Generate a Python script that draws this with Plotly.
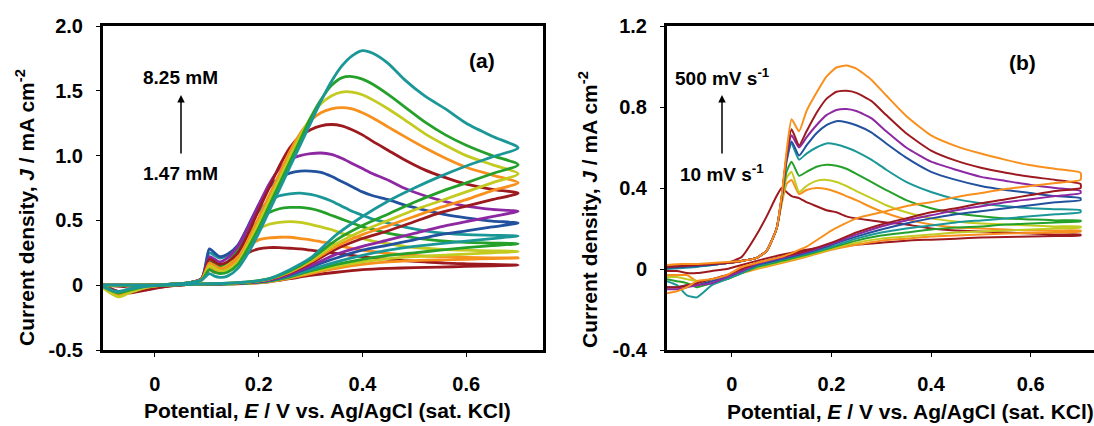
import plotly.graph_objects as go

# ---------------- Panel (a): concentration series 1.47 -> 8.25 mM ----------------
E_FWD_A = [-0.10, -0.06, -0.02, 0.02, 0.06, 0.09, 0.105, 0.115, 0.125, 0.14,
           0.16, 0.18, 0.20, 0.22, 0.24, 0.26, 0.28, 0.30, 0.32, 0.34, 0.36,
           0.38, 0.40, 0.42, 0.45, 0.48, 0.52, 0.56, 0.60, 0.65, 0.70]
E_REV_A = [0.65, 0.60, 0.55, 0.50, 0.45, 0.40, 0.35, 0.30, 0.26, 0.22, 0.18,
           0.14, 0.10, 0.06, 0.02, -0.02, -0.05, -0.07, -0.09, -0.10]

# forward scans (highest concentration first)
a01_f = [0.0, 0.0, 0.0, 0.005, 0.015, 0.04, 0.09, 0.07, 0.06, 0.07, 0.13, 0.25, 0.40, 0.57, 0.74, 0.91, 1.08, 1.25, 1.42, 1.57, 1.69, 1.77, 1.81, 1.79, 1.71, 1.59, 1.46, 1.36, 1.25, 1.15, 1.06]
a02_f = [0.0, 0.0, 0.0, 0.005, 0.015, 0.04, 0.12, 0.10, 0.09, 0.10, 0.16, 0.29, 0.44, 0.61, 0.78, 0.95, 1.12, 1.29, 1.43, 1.54, 1.60, 1.61, 1.59, 1.55, 1.47, 1.38, 1.26, 1.16, 1.08, 1.00, 0.93]
a03_f = [-0.01, 0.0, 0.0, 0.005, 0.015, 0.04, 0.15, 0.13, 0.11, 0.12, 0.18, 0.32, 0.48, 0.65, 0.82, 0.99, 1.15, 1.29, 1.40, 1.46, 1.49, 1.49, 1.47, 1.43, 1.36, 1.28, 1.17, 1.08, 1.00, 0.93, 0.86]
a04_f = [0.0, 0.0, 0.0, 0.005, 0.015, 0.045, 0.17, 0.15, 0.13, 0.14, 0.20, 0.35, 0.52, 0.69, 0.86, 1.03, 1.17, 1.27, 1.33, 1.36, 1.37, 1.36, 1.33, 1.29, 1.22, 1.15, 1.06, 0.98, 0.91, 0.85, 0.79]
a05_f = [0.0, -0.01, 0.0, 0.005, 0.015, 0.05, 0.20, 0.18, 0.16, 0.18, 0.25, 0.40, 0.58, 0.75, 0.92, 1.06, 1.15, 1.20, 1.23, 1.24, 1.23, 1.20, 1.16, 1.11, 1.04, 0.97, 0.89, 0.83, 0.78, 0.74, 0.71]
a06_f = [0.0, 0.0, 0.0, 0.005, 0.015, 0.05, 0.22, 0.20, 0.18, 0.21, 0.30, 0.45, 0.62, 0.78, 0.90, 0.97, 1.00, 1.015, 1.02, 1.01, 0.98, 0.94, 0.90, 0.86, 0.81, 0.75, 0.69, 0.645, 0.61, 0.585, 0.57]
a07_f = [0.0, 0.0, 0.0, 0.005, 0.015, 0.05, 0.28, 0.25, 0.22, 0.24, 0.31, 0.46, 0.62, 0.75, 0.83, 0.865, 0.88, 0.88, 0.87, 0.84, 0.80, 0.76, 0.72, 0.69, 0.66, 0.62, 0.58, 0.545, 0.52, 0.495, 0.48]
a08_f = [0.0, 0.0, 0.0, 0.005, 0.015, 0.05, 0.25, 0.23, 0.21, 0.23, 0.30, 0.44, 0.57, 0.65, 0.69, 0.705, 0.71, 0.70, 0.68, 0.65, 0.61, 0.57, 0.54, 0.51, 0.48, 0.45, 0.42, 0.40, 0.39, 0.385, 0.38]
a09_f = [0.0, 0.0, 0.0, 0.005, 0.015, 0.045, 0.18, 0.16, 0.15, 0.18, 0.27, 0.40, 0.50, 0.56, 0.59, 0.60, 0.60, 0.59, 0.57, 0.54, 0.51, 0.48, 0.45, 0.43, 0.40, 0.38, 0.355, 0.34, 0.33, 0.325, 0.32]
a10_f = [0.0, 0.0, 0.0, 0.005, 0.015, 0.045, 0.16, 0.14, 0.13, 0.17, 0.25, 0.36, 0.43, 0.47, 0.485, 0.49, 0.485, 0.47, 0.45, 0.43, 0.40, 0.38, 0.36, 0.34, 0.32, 0.30, 0.285, 0.275, 0.27, 0.265, 0.26]
a11_f = [0.0, 0.0, 0.0, 0.005, 0.015, 0.045, 0.14, 0.12, 0.12, 0.16, 0.22, 0.30, 0.35, 0.365, 0.37, 0.37, 0.36, 0.35, 0.335, 0.32, 0.30, 0.285, 0.27, 0.26, 0.245, 0.235, 0.225, 0.22, 0.215, 0.21, 0.21]
a12_f = [0.0, 0.0, 0.0, 0.005, 0.015, 0.04, 0.12, 0.10, 0.10, 0.14, 0.20, 0.25, 0.28, 0.29, 0.29, 0.285, 0.28, 0.27, 0.26, 0.25, 0.24, 0.23, 0.22, 0.21, 0.20, 0.19, 0.18, 0.17, 0.165, 0.16, 0.155]

# reverse scans
a01_r = [0.99, 0.92, 0.84, 0.75, 0.65, 0.53, 0.39, 0.21, 0.12, 0.05, 0.025, 0.015, 0.01, 0.005, 0.0, -0.01, -0.03, -0.05, -0.03, -0.01]
a02_r = [0.86, 0.79, 0.72, 0.64, 0.55, 0.46, 0.35, 0.20, 0.11, 0.05, 0.025, 0.015, 0.01, 0.005, 0.0, -0.01, -0.04, -0.06, -0.03, -0.01]
a03_r = [0.79, 0.72, 0.65, 0.58, 0.50, 0.42, 0.32, 0.19, 0.105, 0.048, 0.024, 0.014, 0.01, 0.005, 0.0, -0.02, -0.06, -0.09, -0.05, -0.02]
a04_r = [0.73, 0.66, 0.60, 0.53, 0.46, 0.39, 0.30, 0.18, 0.10, 0.046, 0.023, 0.014, 0.01, 0.005, 0.0, -0.02, -0.05, -0.08, -0.04, -0.02]
a05_r = [0.66, 0.61, 0.56, 0.49, 0.42, 0.36, 0.28, 0.17, 0.095, 0.044, 0.022, 0.013, 0.01, 0.005, -0.01, -0.04, -0.06, -0.05, -0.02, -0.01]
a06_r = [0.53, 0.49, 0.45, 0.40, 0.35, 0.30, 0.24, 0.15, 0.085, 0.04, 0.02, 0.012, 0.008, 0.005, 0.0, -0.02, -0.05, -0.06, -0.03, -0.01]
a07_r = [0.45, 0.42, 0.39, 0.35, 0.31, 0.27, 0.21, 0.14, 0.08, 0.038, 0.02, 0.012, 0.008, 0.005, 0.0, -0.02, -0.04, -0.05, -0.02, -0.01]
a08_r = [0.36, 0.34, 0.32, 0.30, 0.27, 0.23, 0.18, 0.12, 0.07, 0.035, 0.018, 0.011, 0.008, 0.005, 0.0, -0.01, -0.03, -0.05, -0.03, -0.02]
a09_r = [0.305, 0.29, 0.27, 0.25, 0.23, 0.20, 0.16, 0.11, 0.065, 0.032, 0.017, 0.01, 0.007, 0.004, 0.0, -0.01, -0.04, -0.06, -0.03, -0.01]
a10_r = [0.25, 0.24, 0.23, 0.22, 0.205, 0.18, 0.145, 0.10, 0.06, 0.03, 0.016, 0.01, 0.007, 0.004, 0.0, -0.02, -0.05, -0.08, -0.04, -0.01]
a11_r = [0.205, 0.20, 0.195, 0.19, 0.18, 0.16, 0.13, 0.09, 0.055, 0.028, 0.015, 0.01, 0.007, 0.004, 0.0, -0.02, -0.05, -0.07, -0.03, -0.01]
a12_r = [0.15, 0.145, 0.14, 0.135, 0.13, 0.12, 0.10, 0.075, 0.05, 0.026, 0.014, 0.01, 0.007, 0.004, -0.01, -0.03, -0.05, -0.06, -0.03, -0.01]

# ---------------- Panel (b): scan-rate series 10 -> 500 mV/s ----------------
E_FWD_B = [-0.13, -0.10, -0.07, -0.04, -0.01, 0.02, 0.05, 0.07, 0.09, 0.10, 0.11,
           0.12, 0.135, 0.15, 0.17, 0.19, 0.21, 0.23, 0.25, 0.28, 0.31, 0.35,
           0.40, 0.45, 0.50, 0.55, 0.60, 0.65, 0.70]
E_REV_B = [0.70, 0.65, 0.60, 0.55, 0.50, 0.45, 0.40, 0.35, 0.30, 0.25, 0.20,
           0.15, 0.10, 0.05, 0.02, -0.01, -0.04, -0.07, -0.09, -0.11, -0.13]

b01_f = [0.015, 0.02, 0.02, 0.025, 0.03, 0.06, 0.17, 0.26, 0.36, 0.40, 0.38, 0.36, 0.35, 0.33, 0.31, 0.29, 0.28, 0.26, 0.25, 0.24, 0.23, 0.22, 0.20, 0.19, 0.185, 0.18, 0.175, 0.17, 0.17]
b02_f = [0.015, 0.02, 0.02, 0.025, 0.03, 0.04, 0.055, 0.09, 0.20, 0.32, 0.42, 0.44, 0.37, 0.39, 0.40, 0.395, 0.38, 0.36, 0.34, 0.305, 0.275, 0.245, 0.22, 0.205, 0.20, 0.195, 0.19, 0.19, 0.19]
b03_f = [0.01, 0.015, 0.02, 0.025, 0.03, 0.04, 0.055, 0.09, 0.20, 0.33, 0.45, 0.48, 0.38, 0.41, 0.435, 0.44, 0.43, 0.41, 0.385, 0.35, 0.315, 0.28, 0.25, 0.235, 0.225, 0.22, 0.215, 0.21, 0.21]
b04_f = [0.005, 0.01, 0.015, 0.02, 0.03, 0.04, 0.055, 0.09, 0.20, 0.34, 0.48, 0.53, 0.46, 0.48, 0.505, 0.515, 0.51, 0.495, 0.47, 0.43, 0.39, 0.34, 0.30, 0.275, 0.26, 0.25, 0.245, 0.24, 0.24]
b05_f = [0.0, 0.005, 0.01, 0.02, 0.03, 0.04, 0.055, 0.09, 0.20, 0.35, 0.53, 0.62, 0.54, 0.57, 0.60, 0.62, 0.615, 0.60, 0.58, 0.54, 0.49, 0.43, 0.38, 0.345, 0.325, 0.31, 0.30, 0.295, 0.29]
b06_f = [0.005, 0.01, 0.015, 0.02, 0.03, 0.04, 0.055, 0.09, 0.20, 0.35, 0.54, 0.63, 0.56, 0.61, 0.67, 0.71, 0.73, 0.725, 0.71, 0.675, 0.62, 0.55, 0.48, 0.44, 0.41, 0.39, 0.375, 0.36, 0.35]
b07_f = [0.01, 0.015, 0.02, 0.025, 0.03, 0.04, 0.055, 0.09, 0.20, 0.35, 0.55, 0.66, 0.60, 0.65, 0.71, 0.76, 0.785, 0.79, 0.78, 0.745, 0.68, 0.60, 0.53, 0.49, 0.455, 0.435, 0.415, 0.40, 0.385]
b08_f = [0.01, 0.015, 0.02, 0.025, 0.03, 0.04, 0.055, 0.09, 0.20, 0.35, 0.56, 0.69, 0.61, 0.68, 0.77, 0.84, 0.875, 0.88, 0.87, 0.83, 0.76, 0.67, 0.585, 0.535, 0.50, 0.475, 0.455, 0.44, 0.42]
b09_f = [0.02, 0.025, 0.025, 0.03, 0.035, 0.04, 0.055, 0.09, 0.20, 0.36, 0.58, 0.74, 0.68, 0.78, 0.87, 0.95, 0.995, 1.005, 0.99, 0.935, 0.857, 0.756, 0.66, 0.607, 0.57, 0.539, 0.512, 0.494, 0.475]

b01_r = [0.165, 0.163, 0.16, 0.158, 0.155, 0.15, 0.145, 0.14, 0.13, 0.12, 0.11, 0.095, 0.07, 0.04, 0.02, 0.0, -0.01, -0.02, -0.02, -0.01, -0.01]
b02_r = [0.185, 0.18, 0.178, 0.175, 0.17, 0.165, 0.16, 0.15, 0.14, 0.12, 0.095, 0.06, 0.03, 0.0, -0.02, -0.03, -0.05, -0.06, -0.03, -0.03, -0.03]
b03_r = [0.205, 0.20, 0.195, 0.19, 0.185, 0.18, 0.17, 0.16, 0.15, 0.13, 0.10, 0.065, 0.035, 0.005, -0.02, -0.05, -0.07, -0.06, -0.05, -0.04, -0.04]
b04_r = [0.235, 0.23, 0.225, 0.22, 0.21, 0.205, 0.195, 0.18, 0.165, 0.14, 0.105, 0.07, 0.04, 0.01, -0.02, -0.05, -0.07, -0.09, -0.07, -0.06, -0.05]
b05_r = [0.28, 0.27, 0.26, 0.25, 0.24, 0.23, 0.215, 0.20, 0.18, 0.15, 0.11, 0.075, 0.045, 0.015, -0.02, -0.05, -0.08, -0.14, -0.13, -0.08, -0.06]
b06_r = [0.34, 0.33, 0.315, 0.30, 0.285, 0.27, 0.25, 0.225, 0.195, 0.16, 0.12, 0.08, 0.05, 0.02, -0.01, -0.04, -0.06, -0.08, -0.08, -0.09, -0.09]
b07_r = [0.375, 0.36, 0.345, 0.33, 0.31, 0.29, 0.265, 0.24, 0.21, 0.17, 0.125, 0.085, 0.055, 0.025, -0.01, -0.04, -0.07, -0.08, -0.09, -0.10, -0.10]
b08_r = [0.40, 0.385, 0.365, 0.345, 0.325, 0.30, 0.28, 0.25, 0.22, 0.18, 0.13, 0.09, 0.06, 0.03, 0.0, -0.03, -0.05, -0.07, -0.08, -0.09, -0.09]
b09_r = [0.44, 0.425, 0.41, 0.395, 0.375, 0.355, 0.33, 0.31, 0.28, 0.25, 0.19, 0.11, 0.06, 0.03, 0.01, -0.03, -0.05, -0.06, -0.09, -0.11, -0.12]

# colour cycle used by the original figure (lowest member first)
PALETTE = ["#9C1A1F", "#F8901E", "#C3CB20", "#25A02B", "#1C9797", "#22519E", "#8E28A2"]

X_TICKS = [0, 0.2, 0.4, 0.6]
X_TICKTEXT = ["0", "0.2", "0.4", "0.6"]
YA_TICKS = [-0.5, 0, 0.5, 1.0, 1.5, 2.0]
YA_TICKTEXT = ["-0.5", "0", "0.5", "1.0", "1.5", "2.0"]
YB_TICKS = [-0.4, 0, 0.4, 0.8, 1.2]
YB_TICKTEXT = ["-0.4", "0", "0.4", "0.8", "1.2"]

# ---------------- figure ----------------
W, H = 1094, 426
FONT = "Liberation Sans, Arial, sans-serif"

series_a = [(a12_f, a12_r), (a11_f, a11_r), (a10_f, a10_r), (a09_f, a09_r),
            (a08_f, a08_r), (a07_f, a07_r), (a06_f, a06_r), (a05_f, a05_r),
            (a04_f, a04_r), (a03_f, a03_r), (a02_f, a02_r), (a01_f, a01_r)]
series_b = [(b01_f, b01_r), (b02_f, b02_r), (b03_f, b03_r), (b04_f, b04_r),
            (b05_f, b05_r), (b06_f, b06_r), (b07_f, b07_r), (b08_f, b08_r),
            (b09_f, b09_r)]

fig = go.Figure()
for i, (f, r) in enumerate(series_a):
    fig.add_trace(go.Scatter(
        x=E_FWD_A + E_REV_A, y=f + r, mode="lines", xaxis="x", yaxis="y",
        line=dict(color=PALETTE[i % 7], width=2.8, shape="spline", smoothing=0.7),
        showlegend=False, hoverinfo="skip"))
for i, (f, r) in enumerate(series_b):
    fig.add_trace(go.Scatter(
        x=E_FWD_B + E_REV_B, y=f + r, mode="lines", xaxis="x2", yaxis="y2",
        line=dict(color=PALETTE[i % 7], width=2.0, shape="spline", smoothing=0.5),
        showlegend=False, hoverinfo="skip"))

axis_common = dict(showline=True, linecolor="black", linewidth=3, showgrid=False,
                   zeroline=False, ticks="outside", ticklen=4, tickwidth=1,
                   tickcolor="black", automargin=False,
                   tickfont=dict(family=FONT, size=20, color="black"))


def bold(lst):
    return ["<b>%s</b>" % t for t in lst]


fig.update_layout(
    width=W, height=H, margin=dict(l=0, r=0, t=26, b=76),
    paper_bgcolor="white", plot_bgcolor="white",
    xaxis=dict(domain=[103 / W, 543 / W], range=[-0.1, 0.748], anchor="y",
               tickvals=X_TICKS, ticktext=bold(X_TICKTEXT), mirror=True,
               ticklabelstandoff=10, **axis_common),
    yaxis=dict(domain=[0, 1], range=[-0.5, 2.0], anchor="x",
               tickvals=YA_TICKS, ticktext=bold(YA_TICKTEXT), mirror=True,
               ticklabelstandoff=9, **axis_common),
    xaxis2=dict(domain=[667 / W, 1.0], range=[-0.13, 0.727], anchor="y2",
                tickvals=X_TICKS, ticktext=bold(X_TICKTEXT), mirror=True,
                ticklabelstandoff=10, **axis_common),
    yaxis2=dict(domain=[0, 1], range=[-0.4, 1.2], anchor="x2",
                tickvals=YB_TICKS, ticktext=bold(YB_TICKTEXT), mirror=False,
                ticklabelstandoff=9, **axis_common),
)


def px_x(px):
    return px / W


def px_y(py):
    return (350 - py) / 324.0


ann = []
ytitle = "<b>Current density, <i>J</i> / mA cm<sup>-2</sup></b>"
xtitle = "<b>Potential, <i>E</i> / V vs. Ag/AgCl (sat. KCl)</b>"
ann.append(dict(text=ytitle, x=px_x(25), y=px_y(208), textangle=-90))
ann.append(dict(text=ytitle, x=px_x(588), y=px_y(210), textangle=-90))
ann.append(dict(text=xtitle, x=px_x(327), y=px_y(410)))
ann.append(dict(text=xtitle, x=px_x(910), y=px_y(411)))
ann.append(dict(text="<b>(a)</b>", x=px_x(482), y=px_y(60)))
ann.append(dict(text="<b>(b)</b>", x=px_x(1022), y=px_y(62)))
ann.append(dict(text="<b>8.25 mM</b>", x=px_x(180), y=px_y(77), font_size=19))
ann.append(dict(text="<b>1.47 mM</b>", x=px_x(180), y=px_y(173), font_size=19))
ann.append(dict(text="<b>500 mV s<sup>-1</sup></b>", x=px_x(722), y=px_y(77), font_size=19))
ann.append(dict(text="<b>10 mV s<sup>-1</sup></b>", x=px_x(722), y=px_y(173), font_size=19))

for a in ann:
    fs = a.pop("font_size", 21)
    fig.add_annotation(xref="paper", yref="paper", showarrow=False,
                       xanchor="center", yanchor="middle",
                       font=dict(family=FONT, size=fs, color="black"), **a)

for xa in (181, 722):
    fig.add_annotation(xref="paper", yref="paper", x=px_x(xa), y=px_y(95),
                       ax=0, ay=60, text="", showarrow=True, arrowhead=2,
                       arrowsize=1, arrowwidth=1.5, arrowcolor="black")

fig.write_html("out.html",
               config={"displayModeBar": False},
               post_script="document.body.style.margin='0';"
                           "document.body.style.overflow='hidden';")
